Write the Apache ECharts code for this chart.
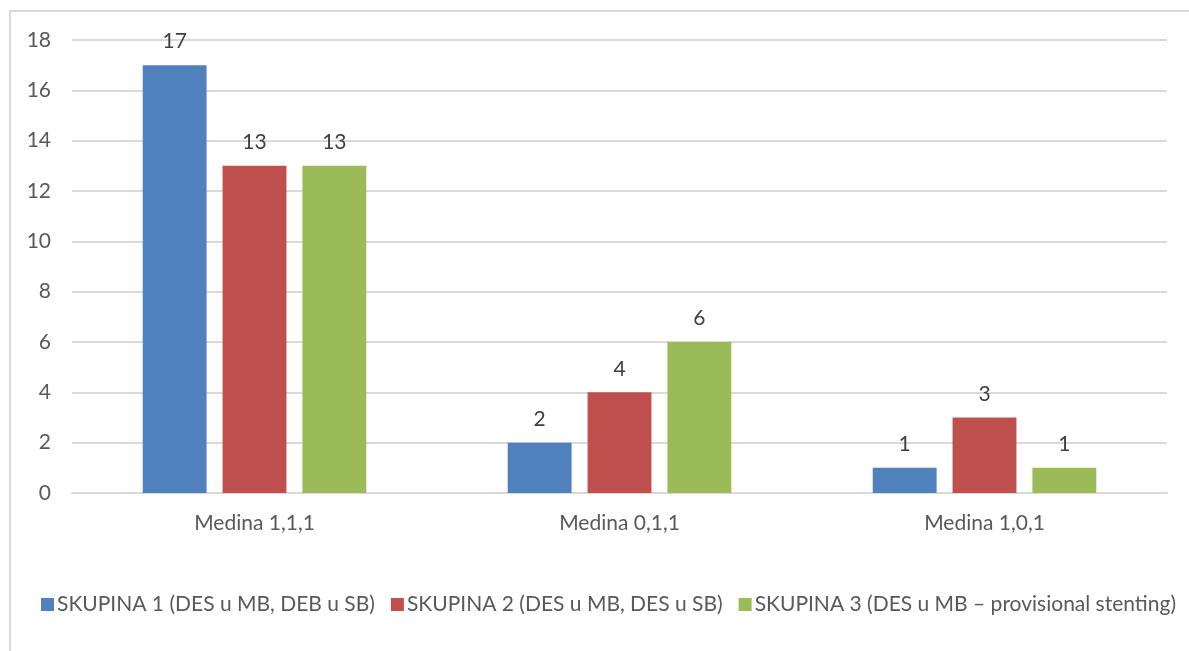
<!DOCTYPE html>
<html>
<head>
<meta charset="utf-8">
<script src="https://cdn.jsdelivr.net/npm/echarts@6/dist/echarts.min.js"></script>
<style>
html, body { margin: 0; padding: 0; background: #fff; }
#frame {
  position: absolute; left: 9px; top: 10px; width: 1300px; height: 700px;
  border: 2px solid #d9d9d9; box-sizing: border-box;
}
#myChart { position: absolute; left: 0; top: 0; width: 1189px; height: 651px; }
</style>
</head>
<body>
<div id="frame"></div>
<div id="myChart"></div>
<script>
// kategorije in vrednosti
var categories = ["Medina 1,1,1", "Medina 0,1,1", "Medina 1,0,1"];
var skupina1 = [17, 2, 1];
var skupina2 = [13, 4, 3];
var skupina3 = [13, 6, 1];
var seriesNames = [
  "SKUPINA 1 (DES u MB, DEB u SB)",
  "SKUPINA 2 (DES u MB, DES u SB)",
  "SKUPINA 3 (DES u MB \u2013 provisional stenting)"
];
var colors = ["#4f81bd", "#c0504d", "#9bbb59"];

var font = "Lato, 'Open Sans', sans-serif";
var fs = 21;
var myChart = echarts.init(document.getElementById("myChart"));

function makeSeries(name, data, color) {
  return {
    name: name,
    type: "bar",
    data: data,
    barWidth: "17.5%",
    barGap: "25%",
    itemStyle: { color: color },
    label: {
      show: true,
      position: "top",
      distance: 13,
      color: "#404040",
      fontSize: fs,
      fontFamily: font
    }
  };
}

myChart.setOption({
  animation: false,
  color: colors,
  textStyle: { fontFamily: font },
  grid: { left: 72, right: 22, top: 40, bottom: 158 },
  legend: {
    left: 36,
    top: 589,
    icon: "rect",
    itemWidth: 13,
    itemHeight: 13,
    itemGap: 16,
    textStyle: { color: "#595959", fontSize: fs, fontFamily: font, padding: [0, 0, 0, -2] },
    data: seriesNames
  },
  xAxis: {
    type: "category",
    data: categories,
    axisLine: { lineStyle: { color: "#d9d9d9", width: 2 } },
    axisTick: { show: false },
    axisLabel: { color: "#595959", fontSize: fs, fontFamily: font, margin: 20 }
  },
  yAxis: {
    type: "value",
    min: 0,
    max: 18,
    interval: 2,
    axisLine: { show: false },
    axisTick: { show: false },
    splitLine: { lineStyle: { color: "#d9d9d9", width: 2 } },
    axisLabel: { color: "#595959", fontSize: fs, fontFamily: font, margin: 21 }
  },
  series: [
    makeSeries(seriesNames[0], skupina1, colors[0]),
    makeSeries(seriesNames[1], skupina2, colors[1]),
    makeSeries(seriesNames[2], skupina3, colors[2])
  ]
});
</script>
</body>
</html>
